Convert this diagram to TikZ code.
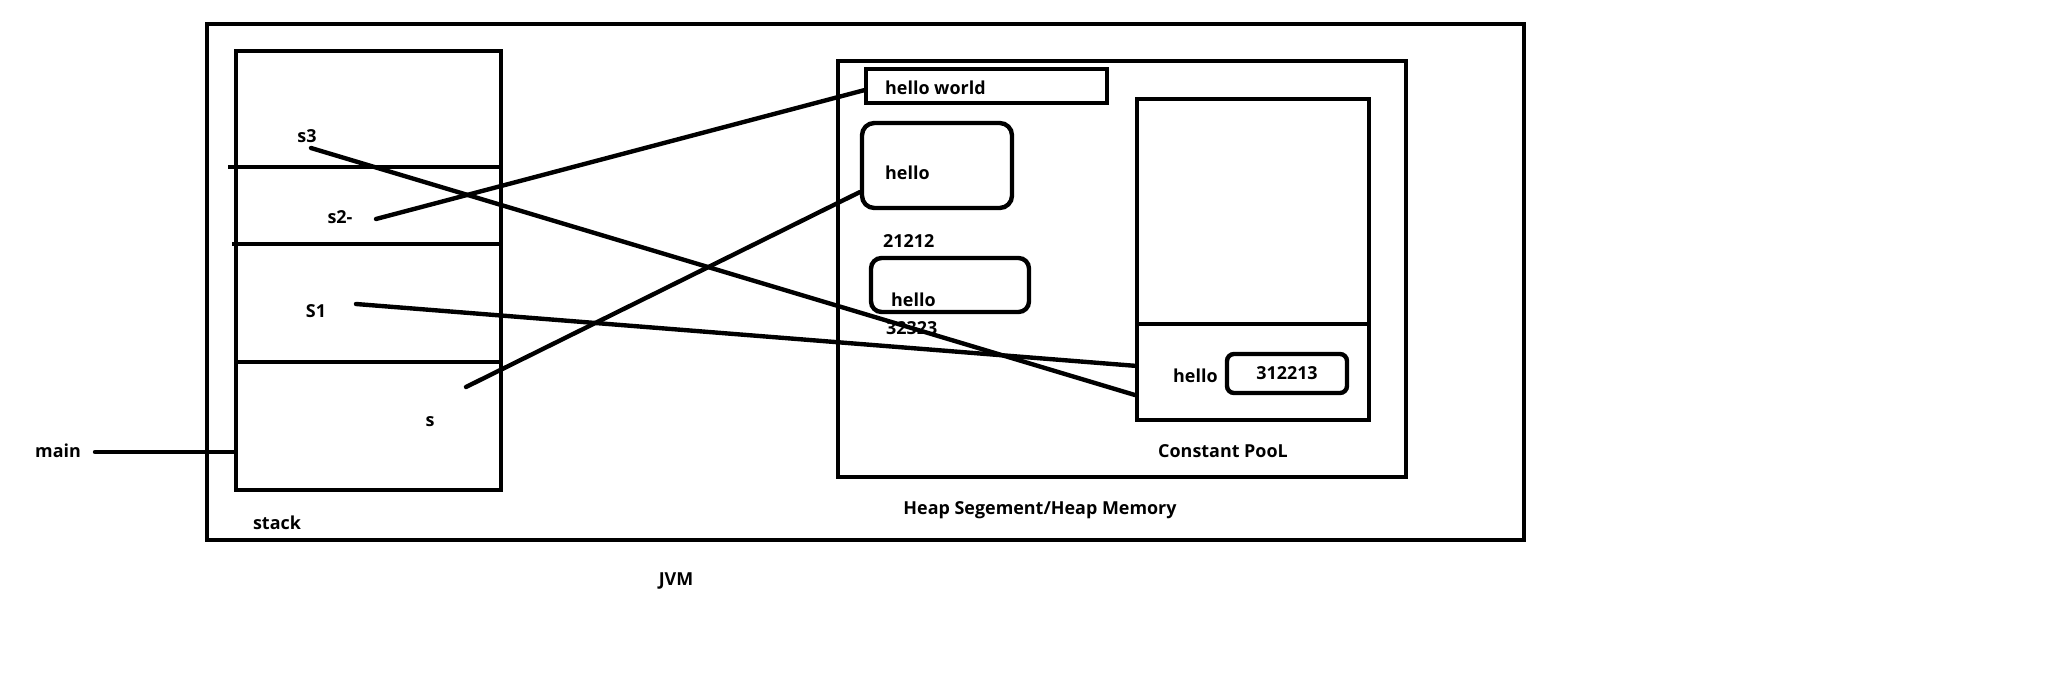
\documentclass[tikz,border=0pt]{standalone}
\usepackage{fontspec}
\setmainfont{Open Sans}
\usetikzlibrary{fit}

\begin{document}
\begin{tikzpicture}[x=0.02cm, y=-0.02cm, line width=2.5pt,
  box/.style={draw, inner sep=0pt},
  rbox/.style={draw, inner sep=0pt, rounded corners=7pt},
  lbl/.style={font=\bfseries\fontsize{10.2}{12}\selectfont, inner sep=0pt},
  wire/.style={line cap=round}]

\useasboundingbox (0,0) rectangle (2066,682);

% boxes
\node[box, fit={(207,24) (1524,540)}] (jvm) {};      % JVM box
\node[box, fit={(236,51) (501,490)}] (stack) {};     % stack box
\node[box, fit={(838,61) (1406,477)}] (heap) {};     % heap box
\node[box, fit={(866,69) (1107,103)}] (hw) {};       % hello world
\node[rbox, fit={(862,123) (1012,208)}] (hello1) {}; % hello 21212
\node[rbox, rounded corners=6pt, fit={(871,258) (1029,312)}] (hello2) {}; % hello 32323
\node[box, fit={(1137,99) (1369,324)}] (poolup) {};  % constant pool
\node[box, fit={(1137,324) (1369,420)}] (poollow) {};
\node[rbox, rounded corners=4pt, fit={(1227,354) (1347,393)}] (ph) {}; % 312213

% stack frames
\draw (228,167) -- (501,167);
\draw (232,244) -- (501,244);
\draw (235,362) -- (501,362);

% labels
\node[lbl] (s3) at (307,136) {s3};
\node[lbl] (s2) at (340,217) {s2-};
\node[lbl] (S1) at (316,311) {S1};
\node[lbl] (s) at (430,422) {s};
\node[lbl] (main) at (58,451) {main};
\node[lbl] (stk) at (277,523) {stack};
\node[lbl] (jv) at (676,581) {JVM};
\node[lbl, anchor=west] (thw) at (883,88) {hello world};
\node[lbl, anchor=west] (th1) at (883,173) {hello};
\node[lbl, anchor=west] (n1) at (881,241) {21212};
\node[lbl, anchor=west] (th2) at (889,300) {hello};
\node[lbl, anchor=west] (n2) at (884,328) {32323};
\node[lbl, anchor=west] (th3) at (1171,376) {hello};
\node[lbl] (n3) at (ph.center) {312213};
\node[lbl] (cp) at (1223,451) {Constant PooL};
\node[lbl] (hm) at (1040,510) {Heap Segement/Heap Memory};

% references
\coordinate (s3-ref) at (311,148);
\coordinate (s2-ref) at (376,219);
\coordinate (S1-ref) at (356,304);
\coordinate (s-ref) at (466,387);
\coordinate (main-ref) at (95,452);

\draw[wire] (s3-ref) -- (poollow.191);
\draw[wire] (s2-ref) -- (hw.182);
\draw[wire] (S1-ref) -- (poollow.177);
\draw[wire] (s-ref) -- (hello1.199);
\draw[wire] (main-ref) -- (stack.west |- main-ref);

\end{tikzpicture}
\end{document}
